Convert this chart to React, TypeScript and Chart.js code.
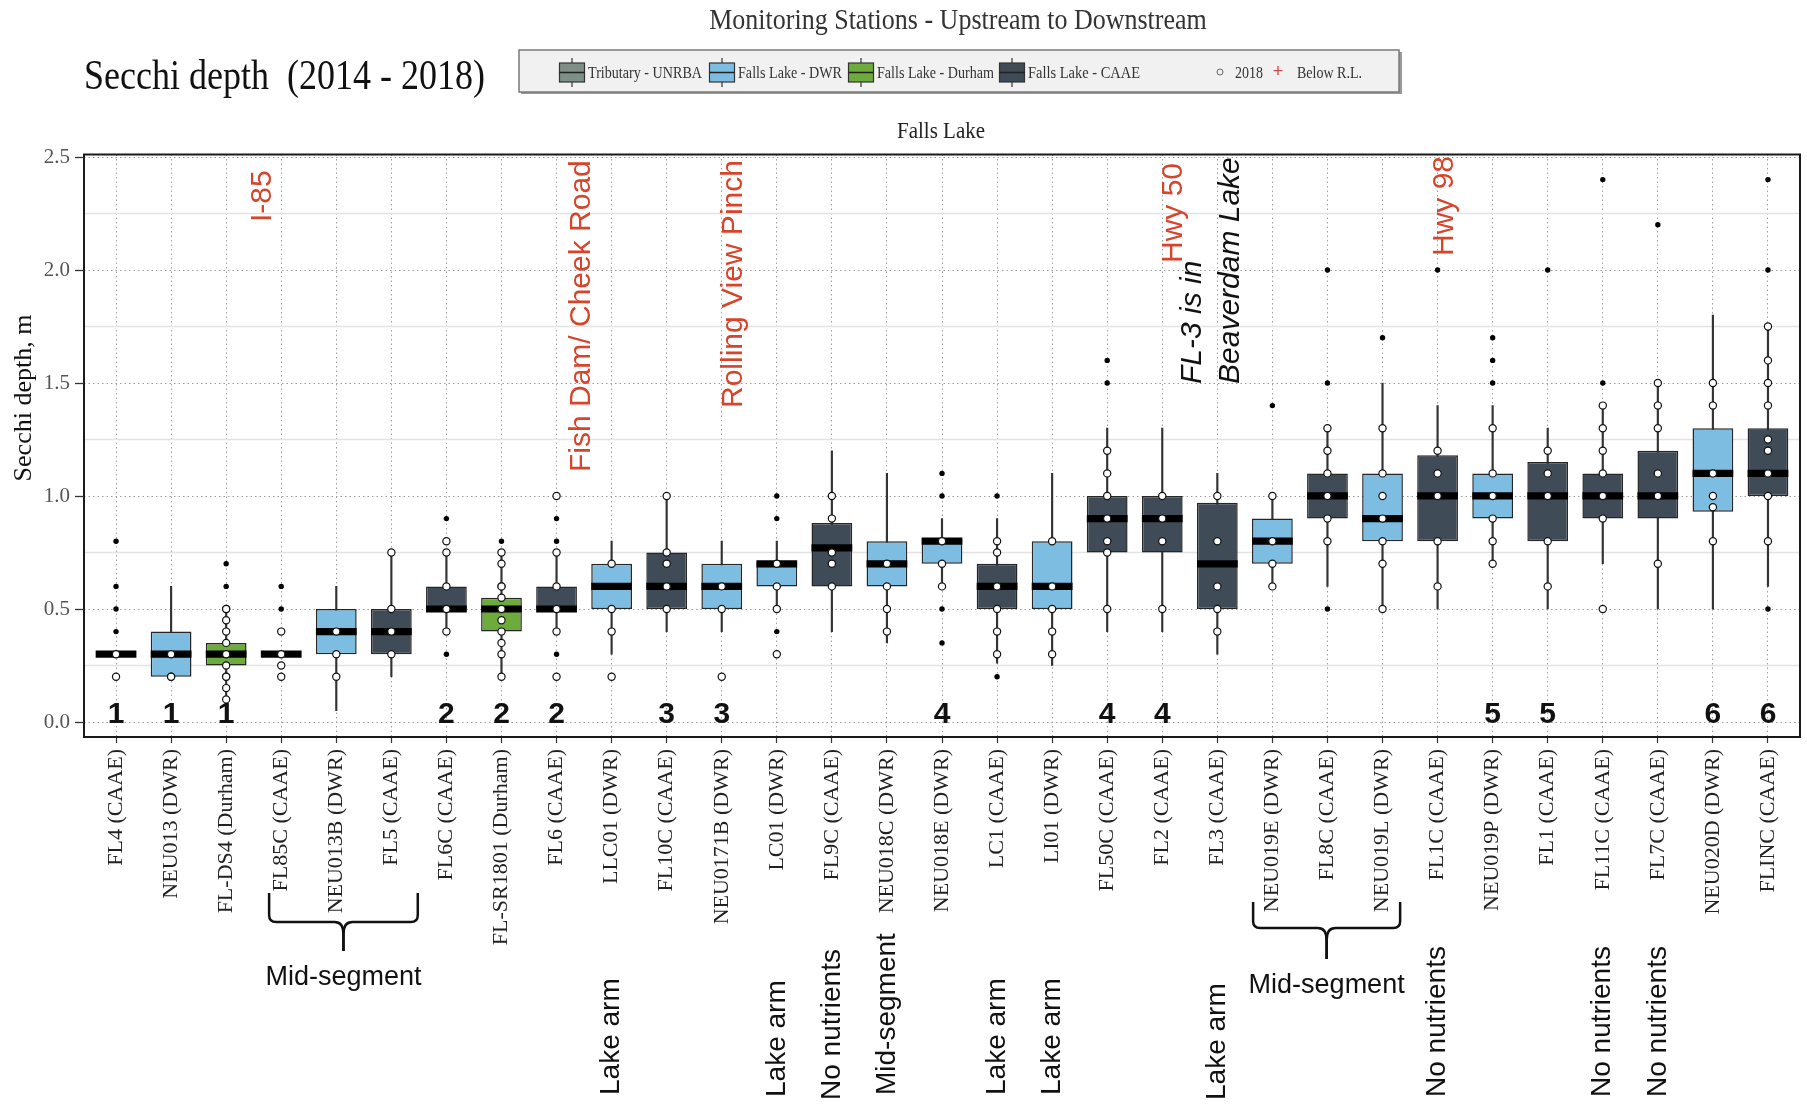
import React, { useEffect, useRef } from "react";
import { Chart, registerables } from "chart.js";

Chart.register(...registerables);

// Monitoring stations, ordered upstream to downstream
const stations = [
  "FL4 (CAAE)", "NEU013 (DWR)", "FL-DS4 (Durham)", "FL85C (CAAE)", "NEU013B (DWR)",
  "FL5 (CAAE)", "FL6C (CAAE)", "FL-SR1801 (Durham)", "FL6 (CAAE)", "LLC01 (DWR)",
  "FL10C (CAAE)", "NEU0171B (DWR)", "LC01 (DWR)", "FL9C (CAAE)", "NEU018C (DWR)",
  "NEU018E (DWR)", "LC1 (CAAE)", "LI01 (DWR)", "FL50C (CAAE)", "FL2 (CAAE)",
  "FL3 (CAAE)", "NEU019E (DWR)", "FL8C (CAAE)", "NEU019L (DWR)", "FL1C (CAAE)",
  "NEU019P (DWR)", "FL1 (CAAE)", "FL11C (CAAE)", "FL7C (CAAE)", "NEU020D (DWR)",
  "FLINC (CAAE)",
];

// Box statistics for Secchi depth (m), 2014 - 2018
const lowerQuartile = [0.30, 0.20, 0.25, 0.30, 0.30, 0.30, 0.50, 0.40, 0.50, 0.50, 0.50, 0.50, 0.60, 0.60, 0.60, 0.70, 0.50, 0.50, 0.75, 0.75, 0.50, 0.70, 0.90, 0.80, 0.80, 0.90, 0.80, 0.90, 0.90, 0.93, 1.00];
const medians = [0.30, 0.30, 0.30, 0.30, 0.40, 0.40, 0.50, 0.50, 0.50, 0.60, 0.60, 0.60, 0.70, 0.77, 0.70, 0.80, 0.60, 0.60, 0.90, 0.90, 0.70, 0.80, 1.00, 0.90, 1.00, 1.00, 1.00, 1.00, 1.00, 1.10, 1.10];
const upperQuartile = [0.30, 0.40, 0.35, 0.30, 0.50, 0.50, 0.60, 0.55, 0.60, 0.70, 0.75, 0.70, 0.71, 0.88, 0.80, 0.81, 0.70, 0.80, 1.00, 1.00, 0.97, 0.90, 1.10, 1.10, 1.18, 1.10, 1.15, 1.10, 1.20, 1.30, 1.30];
const whiskerLow = [0.30, 0.20, 0.10, 0.30, 0.05, 0.20, 0.40, 0.20, 0.40, 0.30, 0.40, 0.40, 0.50, 0.40, 0.35, 0.60, 0.26, 0.25, 0.40, 0.40, 0.30, 0.60, 0.60, 0.50, 0.50, 0.70, 0.50, 0.70, 0.50, 0.50, 0.60];
const whiskerHigh = [0.30, 0.60, 0.50, 0.30, 0.60, 0.75, 0.75, 0.75, 0.75, 0.80, 1.00, 0.80, 0.80, 1.20, 1.10, 0.90, 0.90, 1.10, 1.30, 1.30, 1.10, 1.00, 1.30, 1.50, 1.40, 1.40, 1.30, 1.40, 1.50, 1.80, 1.75];

// Outlying observations (filled dots)
const outlierValues: number[][] = [
  [0.8, 0.6, 0.5, 0.4], [], [0.7, 0.6], [0.6, 0.5], [], [], [0.9, 0.3], [0.8], [0.9, 0.8, 0.3], [],
  [], [], [1.0, 0.9, 0.4], [], [], [1.1, 1.0, 0.5, 0.35], [1.0, 0.3, 0.2], [], [1.6, 1.5], [],
  [], [1.4], [2.0, 1.5, 0.5], [1.7], [2.0], [1.7, 1.6, 1.5], [2.0], [2.4, 1.5], [2.2], [],
  [2.4, 2.0, 0.5],
];

// 2018 observations (open markers)
const values2018: number[][] = [
  [0.3, 0.2], [0.3, 0.2, 0.2], [0.5, 0.5, 0.45, 0.4, 0.35, 0.3, 0.25, 0.2, 0.2, 0.15, 0.1],
  [0.4, 0.3, 0.25, 0.2], [0.4, 0.3, 0.2], [0.75, 0.5, 0.4, 0.3], [0.8, 0.75, 0.6, 0.5, 0.4],
  [0.75, 0.7, 0.6, 0.6, 0.55, 0.5, 0.45, 0.4, 0.35, 0.3, 0.2], [1.0, 0.75, 0.6, 0.5, 0.4, 0.2],
  [0.7, 0.5, 0.4, 0.2], [1.0, 0.75, 0.7, 0.6, 0.5], [0.6, 0.5, 0.2], [0.7, 0.6, 0.5, 0.3],
  [1.0, 0.9, 0.75, 0.7, 0.6], [0.7, 0.6, 0.5, 0.4], [0.8, 0.7, 0.6], [0.8, 0.75, 0.6, 0.5, 0.4, 0.3],
  [0.8, 0.6, 0.5, 0.4, 0.3], [1.2, 1.1, 1.0, 0.9, 0.8, 0.75, 0.5], [1.0, 0.9, 0.8, 0.5],
  [1.0, 0.8, 0.6, 0.5, 0.4], [1.0, 0.8, 0.7, 0.6], [1.3, 1.2, 1.1, 1.0, 0.9, 0.8],
  [1.3, 1.1, 1.0, 0.9, 0.8, 0.7, 0.5], [1.2, 1.1, 1.0, 0.8, 0.6], [1.3, 1.1, 1.0, 0.9, 0.8, 0.7],
  [1.2, 1.1, 1.0, 0.8, 0.6], [1.4, 1.3, 1.2, 1.1, 1.0, 0.9, 0.5], [1.5, 1.4, 1.3, 1.1, 1.0, 0.7],
  [1.5, 1.4, 1.1, 1.0, 0.95, 0.8], [1.75, 1.6, 1.5, 1.4, 1.25, 1.2, 1.1, 1.0, 0.8],
];

// Segment number printed under a station
const zoneLabels = ["1", "1", "1", "", "", "", "2", "2", "2", "", "3", "3", "", "", "", "4", "", "", "4", "4", "", "", "", "", "", "5", "5", "", "", "6", "6"];

const yTickValues = [0, 0.5, 1, 1.5, 2, 2.5];
const yMinorValues = [0.25, 0.75, 1.25, 1.75, 2.25];
const Y_MIN = -0.0664;
const Y_MAX = 2.511;
const MEDIAN_HALF = 0.016;

const SERIF = '"Liberation Serif", "Times New Roman", serif';
const SANS = '"Liberation Sans", Arial, sans-serif';

const groupColors: Record<string, string> = {
  UNRBA: "#7e8f87",
  DWR: "#7dbde1",
  Durham: "#6cab3c",
  CAAE: "#3f4b56",
};
const groupOf = (s: string) =>
  s.includes("(DWR)") ? "DWR" : s.includes("(Durham)") ? "Durham" : "CAAE";

// Place names written over the plot (x in station index units)
const placeNotes = [
  { text: "I-85", at: 2.67, bottom: 222, color: "#d5452c", italic: false },
  { text: "Fish Dam/ Cheek Road", at: 8.46, bottom: 472, color: "#d5452c", italic: false },
  { text: "Rolling View Pinch", at: 11.22, bottom: 408, color: "#d5452c", italic: false },
  { text: "Hwy 50", at: 19.2, bottom: 263, color: "#d5452c", italic: false },
  { text: "FL-3 is in", at: 19.55, bottom: 384, color: "#111", italic: true },
  { text: "Beaverdam Lake", at: 20.24, bottom: 384, color: "#111", italic: true },
  { text: "Hwy 98", at: 24.13, bottom: 256, color: "#d5452c", italic: false },
];

// Station remarks below the axis labels
const stationNotes = [
  { text: "Lake arm", at: 9, bottom: 1095 },
  { text: "Lake arm", at: 12, bottom: 1097 },
  { text: "No nutrients", at: 13, bottom: 1100 },
  { text: "Mid-segment", at: 14, bottom: 1095 },
  { text: "Lake arm", at: 16, bottom: 1095 },
  { text: "Lake arm", at: 17, bottom: 1095 },
  { text: "Lake arm", at: 20, bottom: 1100 },
  { text: "No nutrients", at: 24, bottom: 1097 },
  { text: "No nutrients", at: 27, bottom: 1097 },
  { text: "No nutrients", at: 28, bottom: 1097 },
];

const braces = [
  { from: 2.78, to: 5.48, top: 893, bottom: 922, tip: 951, labelY: 985 },
  { from: 20.65, to: 23.32, top: 902, bottom: 928, tip: 959, labelY: 993 },
];

const legendItems = [
  { label: "Tributary - UNRBA", color: groupColors.UNRBA, x: 572, textWidth: 114 },
  { label: "Falls Lake - DWR", color: groupColors.DWR, x: 722, textWidth: 104 },
  { label: "Falls Lake - Durham", color: groupColors.Durham, x: 861, textWidth: 117 },
  { label: "Falls Lake - CAAE", color: groupColors.CAAE, x: 1012, textWidth: 112 },
];

const FRAME_PAD = 4.5;

function verticalText(ctx: CanvasRenderingContext2D, text: string, x: number, yBottom: number, font: string, color: string) {
  ctx.save();
  ctx.translate(x, yBottom);
  ctx.rotate(-Math.PI / 2);
  ctx.font = font;
  ctx.fillStyle = color;
  ctx.textAlign = "left";
  ctx.textBaseline = "middle";
  ctx.fillText(text, 0, 0);
  ctx.restore();
}

function stretchedText(ctx: CanvasRenderingContext2D, text: string, x: number, y: number, font: string, color: string, align: CanvasTextAlign, sy: number) {
  ctx.save();
  ctx.translate(x, y);
  ctx.scale(1, sy);
  ctx.font = font;
  ctx.fillStyle = color;
  ctx.textAlign = align;
  ctx.textBaseline = "alphabetic";
  ctx.fillText(text, 0, 0);
  ctx.restore();
}

function drawLegend(ctx: CanvasRenderingContext2D) {
  ctx.save();
  ctx.fillStyle = "#9a9a9a";
  ctx.fillRect(521, 52, 881, 42);
  ctx.fillStyle = "#f1f1f1";
  ctx.fillRect(519, 50, 880, 42);
  ctx.strokeStyle = "#7a7a7a";
  ctx.lineWidth = 1.5;
  ctx.strokeRect(519, 50, 880, 42);

  const legendFont = `17px ${SERIF}`;
  for (const item of legendItems) {
    ctx.strokeStyle = "#333";
    ctx.lineWidth = 1.2;
    ctx.beginPath();
    ctx.moveTo(item.x, 58);
    ctx.lineTo(item.x, 87);
    ctx.stroke();
    ctx.fillStyle = item.color;
    ctx.fillRect(item.x - 12.5, 63, 25, 19);
    ctx.strokeRect(item.x - 12.5, 63, 25, 19);
    ctx.lineWidth = 1.5;
    ctx.strokeStyle = "#222";
    ctx.beginPath();
    ctx.moveTo(item.x - 12.5, 72.5);
    ctx.lineTo(item.x + 12.5, 72.5);
    ctx.stroke();
    ctx.font = legendFont;
    ctx.fillStyle = "#333";
    ctx.textAlign = "left";
    ctx.textBaseline = "middle";
    ctx.fillText(item.label, item.x + 16, 74, item.textWidth);
  }

  ctx.strokeStyle = "#666";
  ctx.lineWidth = 1;
  ctx.beginPath();
  ctx.arc(1220, 72, 3, 0, Math.PI * 2);
  ctx.stroke();
  ctx.font = legendFont;
  ctx.fillStyle = "#333";
  ctx.textAlign = "left";
  ctx.textBaseline = "middle";
  ctx.fillText("2018", 1235, 74, 28);
  ctx.fillStyle = "#d04848";
  ctx.font = `18px ${SANS}`;
  ctx.textAlign = "center";
  ctx.fillText("+", 1278, 72);
  ctx.font = legendFont;
  ctx.fillStyle = "#333";
  ctx.textAlign = "left";
  ctx.fillText("Below R.L.", 1297, 74, 65);
  ctx.restore();
}

const decorations = {
  id: "secchiDecorations",
  beforeDatasetsDraw(chart: any) {
    const { ctx, chartArea, scales } = chart;
    const y = scales.y;
    const left = chartArea.left - FRAME_PAD;
    const right = chartArea.right + FRAME_PAD;
    ctx.save();
    ctx.strokeStyle = "#e3e3e3";
    ctx.lineWidth = 1.5;
    for (const v of yMinorValues) {
      const py = Math.round(y.getPixelForValue(v)) + 0.5;
      ctx.beginPath();
      ctx.moveTo(left, py);
      ctx.lineTo(right, py);
      ctx.stroke();
    }
    ctx.strokeStyle = "#9c9c9c";
    ctx.lineWidth = 1;
    ctx.setLineDash([1.5, 3]);
    for (const v of yTickValues) {
      const py = Math.round(y.getPixelForValue(v)) + 0.5;
      ctx.beginPath();
      ctx.moveTo(left, py);
      ctx.lineTo(right, py);
      ctx.stroke();
    }
    ctx.restore();
  },
  afterDraw(chart: any) {
    const { ctx, chartArea, scales } = chart;
    const x = scales.x;
    const y = scales.y;
    const left = chartArea.left - FRAME_PAD;
    const right = chartArea.right + FRAME_PAD;

    ctx.save();
    // plot frame and y tick marks
    ctx.strokeStyle = "#1a1a1a";
    ctx.lineWidth = 2;
    ctx.strokeRect(left, chartArea.top, right - left, chartArea.bottom - chartArea.top);
    ctx.lineWidth = 1.3;
    ctx.strokeStyle = "#333";
    for (const v of yTickValues) {
      const py = Math.round(y.getPixelForValue(v)) + 0.5;
      ctx.beginPath();
      ctx.moveTo(left - 9, py);
      ctx.lineTo(left, py);
      ctx.stroke();
    }

    // y axis title
    ctx.save();
    ctx.translate(24, 398);
    ctx.rotate(-Math.PI / 2);
    ctx.font = `26px ${SERIF}`;
    ctx.fillStyle = "#111";
    ctx.textAlign = "center";
    ctx.textBaseline = "middle";
    ctx.fillText("Secchi depth, m", 0, 0);
    ctx.restore();

    // header
    stretchedText(ctx, "Monitoring Stations - Upstream to Downstream", 958, 29, `26px ${SERIF}`, "#333", "center", 1.1);
    stretchedText(ctx, "Secchi depth  (2014 - 2018)", 84, 89, `36px ${SERIF}`, "#111", "left", 1.18);
    drawLegend(ctx);
    stretchedText(ctx, "Falls Lake", 941, 138, `21px ${SERIF}`, "#222", "center", 1.05);

    // segment numbers
    ctx.font = `bold 30px ${SANS}`;
    ctx.fillStyle = "#111";
    ctx.textAlign = "center";
    ctx.textBaseline = "alphabetic";
    const zeroY = y.getPixelForValue(0) + 1;
    zoneLabels.forEach((lab, i) => {
      if (lab) ctx.fillText(lab, x.getPixelForValue(i), zeroY);
    });

    // place names
    for (const n of placeNotes) {
      verticalText(ctx, n.text, x.getPixelForValue(n.at), n.bottom, `${n.italic ? "italic " : ""}30px ${SANS}`, n.color);
    }

    // station remarks
    for (const n of stationNotes) {
      verticalText(ctx, n.text, x.getPixelForValue(n.at), n.bottom, `28px ${SANS}`, "#111");
    }

    // braces with labels
    ctx.strokeStyle = "#111";
    ctx.lineWidth = 2.5;
    for (const b of braces) {
      const x1 = x.getPixelForValue(b.from);
      const x2 = x.getPixelForValue(b.to);
      const xc = (x1 + x2) / 2;
      const r = 7;
      for (const [xa, dir] of [[x1, 1], [x2, -1]] as [number, number][]) {
        ctx.beginPath();
        ctx.moveTo(xa, b.top);
        ctx.lineTo(xa, b.bottom - r);
        ctx.quadraticCurveTo(xa, b.bottom, xa + dir * r, b.bottom);
        ctx.lineTo(xc - dir * 9, b.bottom);
        ctx.quadraticCurveTo(xc, b.bottom, xc, b.bottom + 12);
        ctx.lineTo(xc, b.tip);
        ctx.stroke();
      }
      ctx.font = `27px ${SANS}`;
      ctx.fillStyle = "#111";
      ctx.textAlign = "center";
      ctx.textBaseline = "alphabetic";
      ctx.fillText("Mid-segment", xc, b.labelY);
    }
    ctx.restore();
  },
};

export default function App() {
  const canvasRef = useRef<HTMLCanvasElement | null>(null);

  useEffect(() => {
    if (!canvasRef.current) return;
    const colors = stations.map((s) => groupColors[groupOf(s)]);
    const outlierPoints = outlierValues.flatMap((vals, i) => vals.map((v) => ({ x: stations[i], y: v })));
    const points2018 = values2018.flatMap((vals, i) => vals.map((v) => ({ x: stations[i], y: v })));

    const chart = new Chart(canvasRef.current, {
      type: "bar",
      data: {
        labels: stations,
        datasets: [
          {
            label: "whiskers",
            data: stations.map((_, i) => [whiskerLow[i], whiskerHigh[i]]),
            backgroundColor: "#333",
            barThickness: 1.5,
            grouped: false,
            order: 5,
          } as any,
          {
            label: "boxes",
            data: stations.map((_, i) => [lowerQuartile[i], upperQuartile[i]]),
            backgroundColor: colors,
            borderColor: "#262626",
            borderWidth: 1.5,
            borderSkipped: false,
            barPercentage: 0.74,
            categoryPercentage: 1,
            grouped: false,
            order: 4,
          } as any,
          {
            label: "medians",
            data: medians.map((m) => [m - MEDIAN_HALF, m + MEDIAN_HALF]),
            backgroundColor: "#000",
            borderWidth: 0,
            barPercentage: 0.74,
            categoryPercentage: 1,
            grouped: false,
            order: 3,
          } as any,
          {
            type: "scatter",
            label: "outliers",
            data: outlierPoints,
            pointRadius: 2.7,
            pointBackgroundColor: "#000",
            pointBorderWidth: 0,
            order: 2,
          } as any,
          {
            type: "scatter",
            label: "2018",
            data: points2018,
            pointRadius: 3.6,
            pointBackgroundColor: "#fff",
            pointBorderColor: "#111",
            pointBorderWidth: 1.2,
            order: 1,
          } as any,
        ],
      },
      options: {
        responsive: false,
        animation: false,
        devicePixelRatio: 1,
        events: [],
        layout: { padding: { left: 0, right: 11.5, top: 154.5, bottom: 0 } },
        plugins: {
          legend: { display: false },
          tooltip: { enabled: false },
          title: { display: false },
        },
        scales: {
          x: {
            type: "category",
            offset: true,
            grid: {
              display: true,
              offset: false,
              color: "#a0a0a0",
              lineWidth: 1,
              drawTicks: true,
              tickLength: 6,
              tickColor: "#333",
              tickWidth: 1.2,
              tickBorderDash: [],
            },
            border: { display: false, dash: [1.5, 3] },
            ticks: {
              autoSkip: false,
              maxRotation: 90,
              minRotation: 90,
              padding: 6,
              color: "#222",
              font: { family: SERIF, size: 22 },
            },
            afterFit: (s: any) => {
              s.height = 373;
            },
          },
          y: {
            type: "linear",
            min: Y_MIN,
            max: Y_MAX,
            bounds: "data",
            grid: { display: false, drawTicks: false },
            border: { display: false },
            ticks: {
              padding: 18.5,
              color: "#555",
              font: { family: SERIF, size: 21 },
              callback: (v: any) => Number(v).toFixed(1),
            },
            afterBuildTicks: (s: any) => {
              s.ticks = yTickValues.map((v) => ({ value: v }));
            },
            afterFit: (s: any) => {
              s.width = 88.5;
            },
          },
        },
      } as any,
      plugins: [decorations],
    });

    return () => chart.destroy();
  }, []);

  return (
    <div style={{ position: "absolute", left: 0, top: 0, width: 1807, height: 1110, background: "#fff" }}>
      <canvas ref={canvasRef} width={1807} height={1110} style={{ display: "block", width: 1807, height: 1110 }} />
    </div>
  );
}
